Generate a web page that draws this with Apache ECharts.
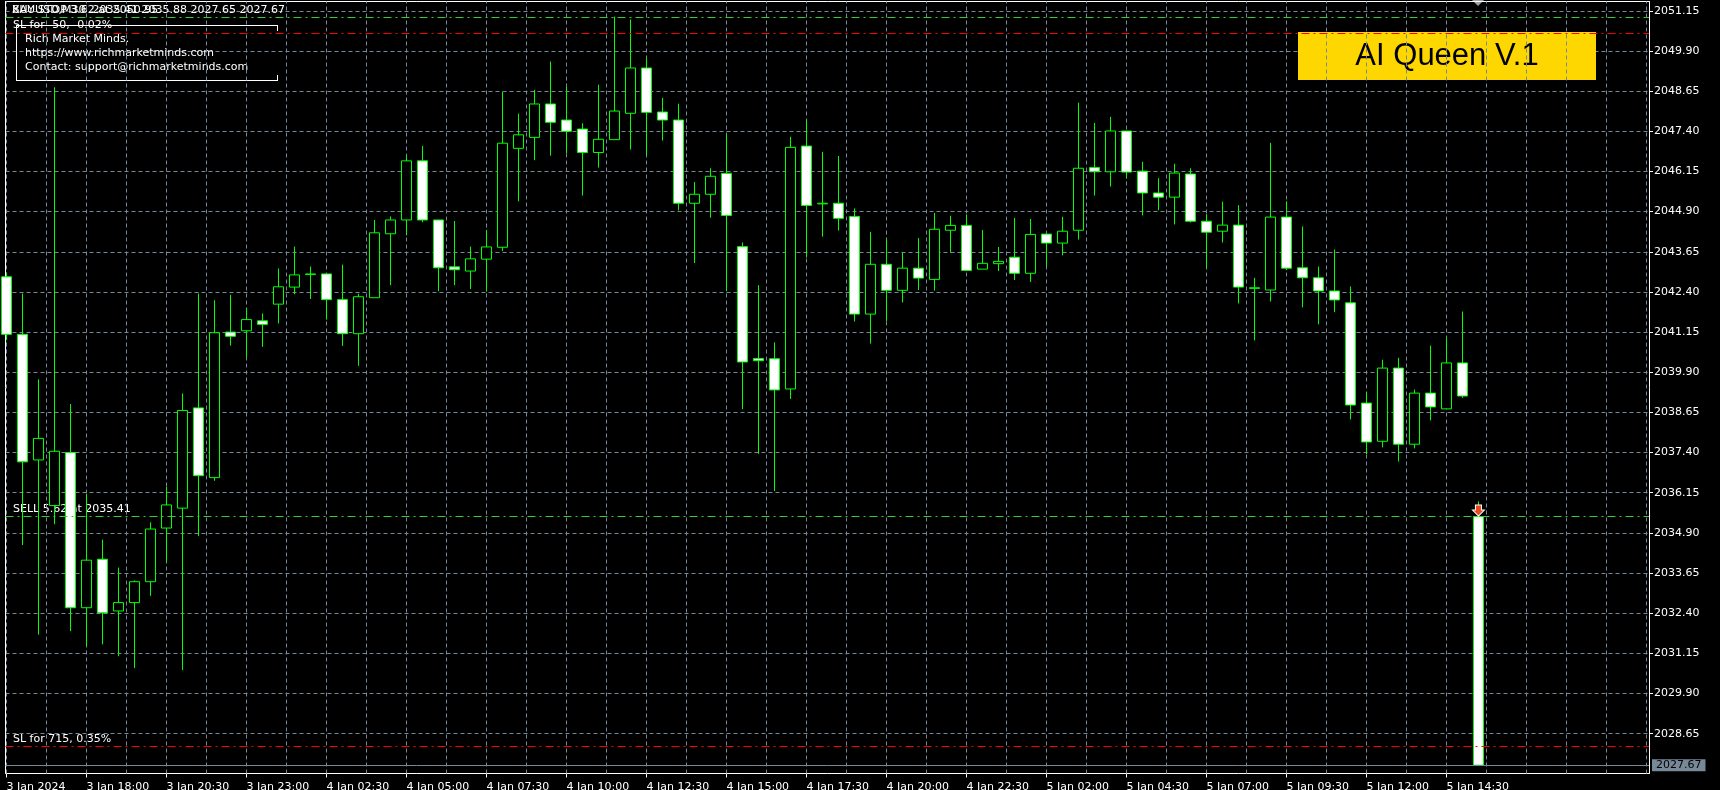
<!DOCTYPE html>
<html><head><meta charset="utf-8">
<script src="https://cdn.jsdelivr.net/npm/echarts@6/dist/echarts.min.js"></script>
<style>html,body{margin:0;padding:0;background:#000;}#c{width:1720px;height:790px;}</style>
</head><body><div id="c"></div>
<script>
// ---- data (XAUUSD, M30) ----
const opens = [2042.87,2041.08,2037.17,2035.75,2037.40,2032.57,2034.08,2032.47,2032.73,2033.38,
2035.05,2035.67,2038.79,2036.62,2041.15,2041.19,2041.50,2042.02,2042.55,2042.94,
2042.96,2042.16,2041.10,2042.22,2044.21,2044.64,2046.48,2044.64,2043.18,2043.05,
2043.42,2043.79,2046.87,2047.21,2048.25,2047.75,2047.47,2046.74,2047.14,2047.96,
2049.37,2048.00,2047.75,2045.16,2045.44,2046.09,2043.81,2040.33,2040.32,2039.38,
2046.94,2045.14,2045.16,2044.75,2041.71,2043.26,2042.45,2043.14,2042.79,2044.32,
2044.47,2043.11,2043.28,2043.48,2042.98,2044.20,2043.92,2044.32,2046.27,2046.14,
2047.41,2046.16,2045.48,2045.35,2046.07,2044.60,2044.29,2044.48,2042.51,2042.46,
2044.73,2043.15,2042.84,2042.43,2042.06,2038.94,2037.75,2040.03,2037.66,2039.25,
2038.76,2040.19,2035.41];
const closes = [2041.08,2037.11,2037.84,2037.44,2032.57,2034.05,2032.41,2032.73,2033.38,2035.02,
2035.77,2038.71,2036.68,2041.13,2041.02,2041.54,2041.39,2042.56,2042.93,2042.96,
2042.16,2041.10,2042.25,2044.24,2044.64,2046.48,2044.64,2043.15,2043.09,2043.43,
2043.80,2047.03,2047.29,2048.25,2047.68,2047.40,2046.74,2047.15,2048.03,2049.37,
2047.99,2047.75,2045.16,2045.44,2046.00,2044.78,2040.22,2040.26,2039.35,2046.90,
2045.09,2045.16,2044.69,2041.71,2043.26,2042.45,2043.14,2042.83,2044.35,2044.47,
2043.07,2043.29,2043.35,2042.98,2044.19,2043.92,2044.29,2046.25,2046.14,2047.41,
2046.13,2045.48,2045.35,2046.10,2044.60,2044.26,2044.48,2042.55,2042.53,2044.73,
2043.14,2042.84,2042.43,2042.15,2038.88,2037.73,2040.03,2037.66,2039.25,2038.82,
2040.19,2039.16,2027.67];
const lows = [2040.90,2034.52,2031.73,2035.17,2031.84,2031.38,2031.43,2031.06,2030.69,2032.94,
2033.98,2030.63,2034.80,2036.52,2040.73,2040.36,2040.69,2041.42,2042.33,2042.18,
2041.54,2040.72,2040.10,2042.22,2042.61,2044.16,2044.57,2042.42,2042.61,2042.49,
2042.41,2043.67,2045.22,2046.50,2046.64,2046.71,2045.40,2046.27,2047.14,2046.83,
2046.64,2047.11,2044.94,2043.30,2044.71,2042.42,2038.75,2037.36,2036.20,2039.07,
2043.47,2044.12,2044.31,2041.48,2040.79,2041.48,2042.07,2042.46,2042.44,2043.62,
2043.07,2043.11,2043.05,2042.77,2042.71,2043.19,2043.54,2044.03,2045.40,2045.68,
2045.93,2044.78,2044.94,2044.50,2044.56,2043.13,2043.94,2042.04,2040.89,2042.10,
2043.08,2041.92,2041.39,2041.77,2038.43,2037.35,2037.56,2037.12,2037.53,2038.40,
2038.76,2039.10,2027.65];
const highs = [2043.00,2042.35,2039.68,2048.77,2038.91,2036.11,2034.69,2033.82,2033.42,2035.23,
2036.33,2039.24,2042.35,2042.14,2042.31,2041.89,2041.73,2043.13,2043.81,2043.19,
2042.96,2043.25,2042.34,2044.64,2044.75,2046.63,2046.94,2044.64,2044.61,2043.81,
2044.33,2048.63,2047.95,2048.69,2049.57,2048.79,2047.65,2048.85,2050.97,2050.88,
2049.68,2048.44,2048.26,2045.82,2046.25,2047.31,2043.94,2042.61,2040.83,2047.23,
2047.76,2046.76,2046.63,2045.00,2044.27,2044.06,2043.62,2044.08,2044.86,2044.77,
2044.81,2044.33,2043.80,2044.70,2044.67,2044.22,2044.74,2048.29,2047.66,2047.85,
2047.41,2046.45,2045.94,2046.39,2046.25,2044.82,2045.21,2045.10,2042.84,2047.04,
2045.22,2044.44,2043.19,2043.72,2042.57,2039.28,2040.29,2040.35,2039.36,2040.73,
2040.97,2041.79,2035.88];
const xTickIndex = [0,5,10,15,20,25,30,35,40,45,50,55,60,65,70,75,80,85,90];
const xTickLabels = ["3 Jan 2024","3 Jan 18:00","3 Jan 20:30","3 Jan 23:00","4 Jan 02:30","4 Jan 05:00",
"4 Jan 07:30","4 Jan 10:00","4 Jan 12:30","4 Jan 15:00","4 Jan 17:30","4 Jan 20:00","4 Jan 22:30",
"5 Jan 02:00","5 Jan 04:30","5 Jan 07:00","5 Jan 09:30","5 Jan 12:00","5 Jan 14:30"];
const yTicks = [2028.65,2029.90,2031.15,2032.40,2033.65,2034.90,2036.15,2037.40,2038.65,2039.90,
2041.15,2042.40,2043.65,2044.90,2046.15,2047.40,2048.65,2049.90,2051.15];
const buyStopPrice = 2050.95, buyStopSL = 2050.45;
const sellPrice = 2035.41, sellSL = 2028.26;
const bidPrice = 2027.67;
const sellBarIndex = 92;
const headerText = "XAUUSD,M30  2035.41 2035.88 2027.65 2027.67";

// ---- chart ----
const FONT = 'DejaVu Sans';
const GRIDC = '#778899';
const GREEN = '#32cd32', RED = '#ff0000';
const candleData = opens.map((o, i) => [i, o, closes[i], lows[i], highs[i]]);
const gridX = [];
for (let v = 0; v <= 102.5; v += 2.5) gridX.push(v);
const XMIN = -0.0625, XMAX = 102.66;

const chart = echarts.init(document.getElementById('c'));
const dashDot = [8, 4, 2, 4];
chart.setOption({
  backgroundColor: '#000',
  animation: false,
  grid: {left: 5.5, right: 71, top: 1.5, bottom: 16.5, show: false, outerBoundsMode: 'none'},
  xAxis: [
    {type: 'value', min: XMIN, max: XMAX, position: 'bottom',
     axisLine: {show: true, onZero: false, lineStyle: {color: '#fff', width: 1}},
     axisTick: {show: true, length: 4, customValues: xTickIndex, lineStyle: {color: '#fff'}},
     axisLabel: {show: true, customValues: xTickIndex, color: '#fff', fontFamily: FONT, fontSize: 11,
       align: 'left', margin: 8,
       formatter: v => { const k = xTickIndex.indexOf(Math.round(v)); return k >= 0 ? xTickLabels[k] : ''; }},
     splitLine: {show: false}},
    {type: 'value', min: XMIN, max: XMAX, position: 'top',
     axisLine: {show: true, onZero: false, lineStyle: {color: '#fff', width: 1}},
     axisTick: {show: false}, axisLabel: {show: false}, splitLine: {show: false}}
  ],
  yAxis: {type: 'value', position: 'right', min: 2027.41, max: 2051.44, scale: true,
    axisLine: {show: true, onZero: false, lineStyle: {color: '#fff', width: 1}},
    axisTick: {show: true, length: 4, customValues: yTicks, lineStyle: {color: '#fff'}},
    axisLabel: {show: true, customValues: yTicks, color: '#fff', fontFamily: FONT, fontSize: 11, margin: 5,
      formatter: v => v.toFixed(2)},
    splitLine: {show: true, lineStyle: {color: GRIDC, width: 1, type: [4, 3]}}},
  series: [
  {
    // vertical grid (behind the candles)
    type: 'line', xAxisIndex: 0, yAxisIndex: 0, data: [], z: 1, silent: true,
    markLine: {
      z: 1, silent: true, symbol: ['none', 'none'], animation: false, label: {show: false},
      lineStyle: {color: GRIDC, width: 1, type: [4, 3]},
      data: gridX.map(v => ({xAxis: v}))
    }
  },
  {
    type: 'candlestick', xAxisIndex: 0, yAxisIndex: 0, clip: true, z: 3,
    data: candleData, encode: {x: 0, y: [1, 2, 3, 4]},
    barWidth: 10,
    itemStyle: {color: '#000', color0: '#fff', borderColor: '#00ff00', borderColor0: '#00ff00',
      borderColorDoji: '#00ff00', borderWidth: 1},
    markLine: {
      silent: true, symbol: ['none', 'none'], animation: false,
      label: {show: false},
      data: [
        {yAxis: buyStopPrice, lineStyle: {color: GREEN, width: 1, type: dashDot}},
        {yAxis: buyStopSL, lineStyle: {color: RED, width: 1, type: dashDot}},
        {yAxis: sellPrice, lineStyle: {color: GREEN, width: 1, type: dashDot}},
        {yAxis: sellSL, lineStyle: {color: RED, width: 1, type: dashDot}},
        {yAxis: bidPrice, lineStyle: {color: GRIDC, width: 1, type: 'solid'},
         label: {show: true, position: 'end', distance: 3, formatter: bidPrice.toFixed(2),
           backgroundColor: '#778899', color: '#000', fontFamily: FONT, fontSize: 11, padding: [1, 4, 0, 4]}}
      ]
    },
    markPoint: {
      silent: true, animation: false,
      data: [{coord: [sellBarIndex, sellPrice],
        symbol: 'path://M3,0 L9,0 L9,5 L12,5 L6,11 L0,5 L3,5 Z',
        symbolSize: [12, 11], symbolOffset: [0, -6],
        itemStyle: {color: '#e8481c', borderColor: '#fff', borderWidth: 1},
        label: {show: false}}]
    }
  }]
});

const py = v => chart.convertToPixel({yAxisIndex: 0}, v);
const txt = (x, y, s, extra) => Object.assign({type: 'text', x: x, y: y, silent: true,
  style: {text: s, fill: '#fff', font: '11px "' + FONT + '"', verticalAlign: 'middle', align: 'left'}}, extra || {});
const ln = (x1, y1, x2, y2, c) => ({type: 'line', silent: true,
  shape: {x1: x1, y1: y1, x2: x2, y2: y2}, style: {stroke: c || '#fff', lineWidth: 1}});
chart.setOption({graphic: [
  ln(5.5, 1.5, 5.5, 773.5),
  // info box
  ln(16, 25.5, 277, 25.5), ln(16.5, 25, 16.5, 80.5), ln(16, 80.5, 277.5, 80.5),
  ln(277.5, 25, 277.5, 31), ln(277.5, 75, 277.5, 81),
  txt(25, 39, 'Rich Market Minds.'),
  txt(25, 53, 'https://www.richmarketminds.com'),
  txt(25, 67, 'Contact: support@richmarketminds.com'),
  // header + order labels
  txt(12, 10, headerText),
  txt(12, 10, 'BUY STOP 3.62 at ' + buyStopPrice.toFixed(2)),
  txt(13, py(buyStopSL) - 8, 'SL for -50, -0.02%'),
  txt(13, py(sellPrice) - 7, 'SELL 5.62 at ' + sellPrice.toFixed(2)),
  txt(13, py(sellSL) - 7, 'SL for 715, 0.35%'),
  // AI Queen label
  {type: 'rect', silent: true, shape: {x: 1298, y: 32, width: 298, height: 48}, style: {fill: '#ffd700'}},
  {type: 'text', silent: true, x: 1447, y: 56,
   style: {text: 'AI Queen V.1', fill: '#000', font: '31px "Liberation Sans"', align: 'center', verticalAlign: 'middle'}},
  // chart shift marker
  {type: 'polygon', silent: true, shape: {points: [[1472, 0], [1484, 0], [1478, 6]]}, style: {fill: '#a0a0a0'}}
]});
</script></body></html>
